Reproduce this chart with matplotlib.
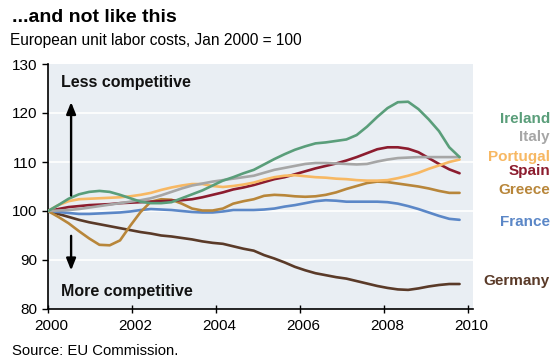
import numpy as np
import matplotlib
matplotlib.use("Agg")
import matplotlib.pyplot as plt
import matplotlib.transforms as mtransforms

plt.rcParams['font.family'] = ['Liberation Sans', 'DejaVu Sans']

# quarterly readings, Jan 2000 = 100
years = np.linspace(2000, 2009.8, 41)

ireland = [100, 101.2, 102.5, 103.4, 103.9, 104.1, 103.9, 103.3, 102.6, 101.9,
           101.6, 101.6, 101.8, 102.6, 103.4, 104.2, 105.2, 106.2, 106.9, 107.7,
           108.4, 109.5, 110.6, 111.6, 112.5, 113.2, 113.8, 114.0, 114.3, 114.6,
           115.5, 117.2, 119.2, 121.0, 122.2, 122.3, 120.8, 118.7, 116.3, 113.0, 111.0]
italy = [100, 100.1, 100.2, 100.4, 100.7, 101.0, 101.3, 101.6, 101.9, 102.2,
         102.6, 103.2, 103.9, 104.6, 105.2, 105.6, 106.0, 106.3, 106.6, 106.9,
         107.2, 107.8, 108.4, 108.8, 109.2, 109.6, 109.8, 109.8, 109.7, 109.6,
         109.5, 109.6, 110.1, 110.5, 110.8, 110.9, 111.0, 111.0, 111.0, 111.0, 111.0]
portugal = [100, 101.2, 102.0, 102.4, 102.5, 102.6, 102.7, 102.8, 103.0, 103.3,
            103.7, 104.3, 104.8, 105.2, 105.5, 105.5, 105.1, 104.9, 105.1, 105.4,
            105.8, 106.4, 106.9, 107.2, 107.3, 107.1, 106.9, 106.8, 106.6, 106.5,
            106.3, 106.2, 106.2, 106.3, 106.7, 107.2, 107.8, 108.6, 109.3, 110.0, 110.5]
spain = [100, 100.4, 100.8, 101.0, 101.2, 101.3, 101.4, 101.6, 101.7, 101.8,
         101.9, 102.0, 102.1, 102.2, 102.4, 102.8, 103.3, 103.8, 104.4, 104.8,
         105.3, 105.9, 106.5, 106.9, 107.5, 108.1, 108.7, 109.2, 109.7, 110.3,
         111.0, 111.8, 112.6, 113.0, 113.0, 112.7, 112.0, 110.8, 109.6, 108.5, 107.7]
greece = [100, 98.8, 97.5, 95.9, 94.4, 93.1, 93.0, 94.0, 97.0, 99.8,
          101.9, 102.4, 102.3, 101.5, 100.5, 100.1, 100.1, 100.5, 101.5, 102.0,
          102.4, 103.1, 103.3, 103.2, 103.0, 102.9, 103.0, 103.3, 103.8, 104.5,
          105.1, 105.7, 106.0, 105.9, 105.6, 105.3, 105.0, 104.6, 104.1, 103.7, 103.7]
france = [100, 99.8, 99.6, 99.4, 99.4, 99.5, 99.6, 99.7, 99.9, 100.2,
          100.4, 100.3, 100.2, 100.0, 99.8, 99.7, 99.7, 99.9, 100.2, 100.2,
          100.2, 100.3, 100.5, 100.9, 101.2, 101.6, 102.0, 102.2, 102.1, 101.9,
          101.9, 101.9, 101.9, 101.8, 101.5, 101.0, 100.4, 99.7, 99.0, 98.4, 98.2]
germany = [100, 99.4, 98.8, 98.2, 97.7, 97.3, 96.9, 96.5, 96.1, 95.7,
           95.4, 95.0, 94.8, 94.5, 94.2, 93.8, 93.5, 93.3, 92.8, 92.3,
           91.9, 91.0, 90.3, 89.5, 88.6, 87.9, 87.3, 86.9, 86.5, 86.2,
           85.7, 85.2, 84.7, 84.3, 84.0, 83.9, 84.2, 84.6, 84.9, 85.1, 85.1]

countries = ['Ireland', 'Italy', 'Portugal', 'Spain', 'Greece', 'France', 'Germany']
series = [ireland, italy, portugal, spain, greece, france, germany]
colors = ['#5A9E7A', '#A6A6A6', '#F7B863', '#8C1C2E', '#B8863A', '#5B87C7', '#5A3A28']
# y positions of the end labels (data units)
label_y = [118.7, 115.0, 111.0, 108.1, 104.3, 97.8, 85.7]

fig = plt.figure(figsize=(5.54, 3.6), dpi=100)
ax = fig.add_axes([48 / 554, 51 / 360, 425 / 554, 245 / 360])
ax.set_facecolor('#E9EEF3')

for y in [90, 100, 110, 120]:
    ax.axhline(y, color='white', lw=1.2, zorder=1)

# draw back to front so Ireland and Germany sit on top
for name, vals, col in zip(countries[::-1], series[::-1], colors[::-1]):
    ax.plot(years, vals, color=col, lw=1.9, zorder=3, solid_capstyle='round')

ax.set_xlim(2000, 2010.12)
ax.set_ylim(80, 130)
ax.set_xticks([2000, 2002, 2004, 2006, 2008, 2010])
ax.set_yticks([80, 90, 100, 110, 120, 130])
ax.tick_params(axis='both', direction='inout', length=6, width=1, labelsize=11,
               colors='black', pad=4)
ax.tick_params(axis='y', direction='out', length=4)
for lab in ax.get_xticklabels():
    lab.set_transform(lab.get_transform() +
                      mtransforms.ScaledTranslation(3 / 100, 0, fig.dpi_scale_trans))
for s in ['top', 'right']:
    ax.spines[s].set_visible(False)
for s in ['left', 'bottom']:
    ax.spines[s].set_linewidth(1.2)

# arrows and notes about competitiveness
ax.annotate('', xy=(2000.55, 122.8), xytext=(2000.55, 102.6),
            arrowprops=dict(arrowstyle='-|>,head_width=0.28,head_length=0.7',
                            color='black', lw=1.7))
ax.annotate('', xy=(2000.55, 87.3), xytext=(2000.55, 95.5),
            arrowprops=dict(arrowstyle='-|>,head_width=0.28,head_length=0.7',
                            color='black', lw=1.7))
ax.text(2000.3, 126.2, 'Less competitive', fontsize=11.5, fontweight='bold',
        ha='left', va='center', color='#111111')
ax.text(2000.3, 83.6, 'More competitive', fontsize=11.5, fontweight='bold',
        ha='left', va='center', color='#111111')

label_trans = mtransforms.blended_transform_factory(fig.transFigure, ax.transData)
for name, col, ly in zip(countries, colors, label_y):
    ax.text(550 / 554, ly, name, transform=label_trans,
            ha='right', va='center', fontsize=11, fontweight='bold', color=col,
            clip_on=False)

fig.text(12 / 554, 1 - 18 / 360, '...and not like this', fontsize=14,
         fontweight='bold', ha='left', va='center')
fig.text(10 / 554, 1 - 40 / 360, 'European unit labor costs, Jan 2000 = 100',
         fontsize=11.2, ha='left', va='center')
fig.text(12 / 554, 1 - 351 / 360, 'Source: EU Commission.', fontsize=10.7,
         ha='left', va='center')

fig.savefig('out.png', dpi=100)
